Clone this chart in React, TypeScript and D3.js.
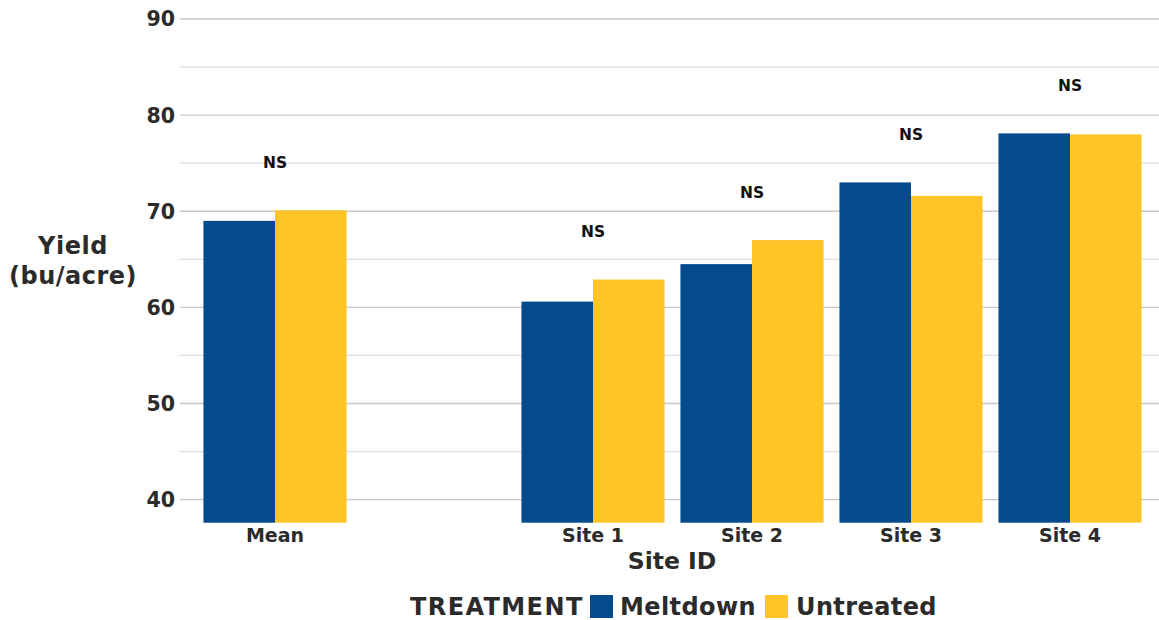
import { useEffect, useRef } from "react"
import * as d3 from "d3"

const categories = ["Mean", "gap", "Site 1", "Site 2", "Site 3", "Site 4"]
const treatments = ["Meltdown", "Untreated"]
const meltdown = [69.0, null, 60.6, 64.5, 73.0, 78.1]
const untreated = [70.1, null, 62.9, 67.0, 71.6, 78.0]
const sigLabels = ["NS", null, "NS", "NS", "NS", "NS"]
const majorTicks = [40, 50, 60, 70, 80, 90]
const minorTicks = [45, 55, 65, 75, 85]

const colors = ["#034b8d", "#ffc527"]
const FONT = "'DejaVu Sans', 'Noto Sans', sans-serif"

export default function App() {
  const svgRef = useRef<SVGSVGElement>(null)

  useEffect(() => {
    if (!svgRef.current) return
    const svg = d3.select(svgRef.current)
    svg.selectAll("*").remove()

    const width = 1159
    const height = 620
    const plotTop = 19
    const plotBottom = 522.7
    const gridLeft = 180

    const y = d3.scaleLinear().domain([37.6, 90]).range([plotBottom, plotTop])
    const x = d3
      .scaleBand<string>()
      .domain(categories)
      .range([195.5, 1149.5])
      .paddingInner(0.1)
      .paddingOuter(0.05)
    const xs = d3.scaleBand<string>().domain(treatments).range([0, x.bandwidth()])

    svg.attr("width", width).attr("height", height).style("font-family", FONT)

    // gridlines
    svg
      .append("g")
      .selectAll("line")
      .data(minorTicks)
      .join("line")
      .attr("x1", gridLeft)
      .attr("x2", width)
      .attr("y1", (d) => y(d))
      .attr("y2", (d) => y(d))
      .attr("stroke", "#dddddd")
      .attr("stroke-width", 1.3)
    svg
      .append("g")
      .selectAll("line")
      .data(majorTicks)
      .join("line")
      .attr("x1", gridLeft)
      .attr("x2", width)
      .attr("y1", (d) => y(d))
      .attr("y2", (d) => y(d))
      .attr("stroke", "#c8c8c8")
      .attr("stroke-width", 1.3)

    // y tick labels
    svg
      .append("g")
      .selectAll("text")
      .data(majorTicks)
      .join("text")
      .attr("x", 175)
      .attr("y", (d) => y(d))
      .attr("dy", "0.36em")
      .attr("text-anchor", "end")
      .attr("font-size", 20.5)
      .attr("font-weight", 700)
      .attr("fill", "#2b2b2b")
      .text((d) => d)

    // bars
    const series = [meltdown, untreated]
    series.forEach((vals, si) => {
      svg
        .append("g")
        .selectAll("rect")
        .data(categories.map((c, i) => ({ c, v: vals[i] })).filter((d) => d.v != null))
        .join("rect")
        .attr("x", (d) => (x(d.c) ?? 0) + (xs(treatments[si]) ?? 0))
        .attr("width", xs.bandwidth())
        .attr("y", (d) => y(d.v as number))
        .attr("height", (d) => plotBottom - y(d.v as number))
        .attr("fill", colors[si])
    })

    // significance labels
    svg
      .append("g")
      .selectAll("text")
      .data(categories.map((c, i) => ({ c, s: sigLabels[i], top: Math.max(meltdown[i] ?? 0, untreated[i] ?? 0) })).filter((d) => d.s))
      .join("text")
      .attr("x", (d) => (x(d.c) ?? 0) + x.bandwidth() / 2)
      .attr("y", (d) => y(d.top) - 48)
      .attr("dy", "0.36em")
      .attr("text-anchor", "middle")
      .attr("font-size", 15.5)
      .attr("font-weight", 700)
      .attr("fill", "#111")
      .text((d) => d.s as string)

    // x tick labels
    svg
      .append("g")
      .selectAll("text")
      .data(categories.filter((c) => c !== "gap"))
      .join("text")
      .attr("x", (d) => (x(d) ?? 0) + x.bandwidth() / 2)
      .attr("y", 535)
      .attr("dy", "0.36em")
      .attr("text-anchor", "middle")
      .attr("font-size", 19)
      .attr("font-weight", 700)
      .attr("fill", "#2b2b2b")
      .text((d) => d)

    // axis titles
    svg
      .append("text")
      .attr("x", 672)
      .attr("y", 561)
      .attr("dy", "0.36em")
      .attr("text-anchor", "middle")
      .attr("font-size", 23.5)
      .attr("font-weight", 700)
      .attr("fill", "#2b2b2b")
      .text("Site ID")
    const yt = svg
      .append("text")
      .attr("text-anchor", "middle")
      .attr("font-size", 24)
      .attr("font-weight", 700)
      .attr("letter-spacing", 0.5)
      .attr("fill", "#2b2b2b")
    yt.append("tspan").attr("x", 73).attr("y", 254).text("Yield")
    yt.append("tspan").attr("x", 73).attr("y", 284).text("(bu/acre)")

    // legend
    const lg = svg.append("g").attr("font-size", 24).attr("font-weight", 700).attr("fill", "#2b2b2b")
    lg.append("text").attr("x", 410).attr("y", 606).attr("dy", "0.36em").attr("letter-spacing", 1.4).text("TREATMENT")
    const items = [
      { name: treatments[0], sx: 590, tx: 620 },
      { name: treatments[1], sx: 765, tx: 796 },
    ]
    items.forEach((it, i) => {
      lg.append("rect").attr("x", it.sx).attr("y", 595).attr("width", 23).attr("height", 23).attr("fill", colors[i])
      lg.append("text").attr("x", it.tx).attr("y", 606).attr("dy", "0.36em").attr("letter-spacing", 0.4).text(it.name)
    })
  }, [])

  return <svg ref={svgRef} style={{ position: "absolute", left: 0, top: 0 }} />
}
